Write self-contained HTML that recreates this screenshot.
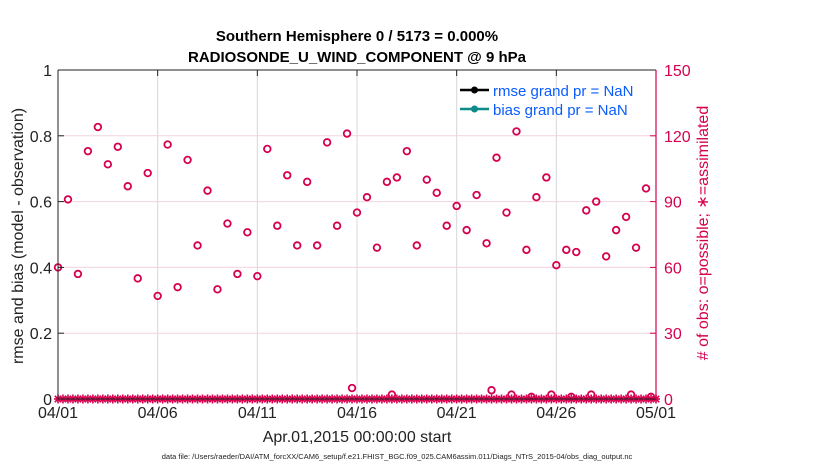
<!DOCTYPE html>
<html><head><meta charset="utf-8"><style>
body{margin:0;background:#fff;}
svg{display:block;font-family:"Liberation Sans",sans-serif;}
</style></head><body>
<svg id="chart" width="830" height="470" viewBox="0 0 830 470">
<g id="grid"></g>
<g id="marks"></g>
<g id="axes"></g>
<text x="357" y="41" text-anchor="middle" font-size="15" font-weight="bold">Southern Hemisphere 0 / 5173 = 0.000%</text>
<text x="357" y="62" text-anchor="middle" font-size="15" font-weight="bold">RADIOSONDE_U_WIND_COMPONENT @ 9 hPa</text>
<text x="357" y="442" text-anchor="middle" font-size="16" fill="#222">Apr.01,2015 00:00:00 start</text>
<text x="397" y="459" text-anchor="middle" font-size="7.5" fill="#222">data file: /Users/raeder/DAI/ATM_forcXX/CAM6_setup/f.e21.FHIST_BGC.f09_025.CAM6assim.011/Diags_NTrS_2015-04/obs_diag_output.nc</text>
<text transform="translate(23,236) rotate(-90)" text-anchor="middle" font-size="16" fill="#222">rmse and bias (model - observation)</text>
<text transform="translate(708,233) rotate(-90)" text-anchor="middle" font-size="16" fill="#d6004f"># of obs: o=possible; ∗=assimilated</text>
<g>
<g>
<line x1="460" y1="90" x2="489" y2="90" stroke="#000" stroke-width="2.5"/><circle cx="474.5" cy="90" r="3.5" fill="#000"/>
<text x="493" y="96" font-size="15" fill="#0a5cff">rmse grand pr = NaN</text></g>
<g>
<line x1="460" y1="109" x2="489" y2="109" stroke="#0e8a8a" stroke-width="2.5"/><circle cx="474.5" cy="109" r="3.5" fill="#0e8a8a"/>
<text x="493" y="115" font-size="15" fill="#0a5cff">bias grand pr = NaN</text></g>
</g>
</svg>
<script>
// possible obs at 00Z/12Z (every 0.5 day starting Apr 1)
const possibleMain = [60,91,57,113,124,107,115,97,55,103,47,116,51,109,70,95,50,80,57,76,56,114,79,102,70,99,70,117,79,121,85,92,69,99,101,113,70,100,94,79,88,77,93,71,110,85,122,68,92,101,61,68,67,86,90,65,77,83,69,96];
// small possible counts at off-times (day, count)
const offDays = [14.75,16.75,21.75,22.75,23.75,24.75,25.75,26.75,28.75,29.75];
const offCounts = [5,2,4,2,1,2,1,2,2,1];
const assimilatedCount = 0;
const xTickDays = [0,5,10,15,20,25,30];
const xTickLabels = ["04/01","04/06","04/11","04/16","04/21","04/26","05/01"];
const leftTicks = [0,0.2,0.4,0.6,0.8,1];
const leftTickLabels = ["0","0.2","0.4","0.6","0.8","1"];
const rightTicks = [0,30,60,90,120,150];

const X0=58,X1=656,Y0=399,Y1=70;
const C="#d6004f";
function xs(d){return X0+(X1-X0)*d/30;}
function yl(v){return Y0-(Y0-Y1)*v;}
function yr(v){return Y0-(Y0-Y1)*v/150;}
const NS="http://www.w3.org/2000/svg";
function mk(tag,attrs,parent){const e=document.createElementNS(NS,tag);for(const k in attrs)e.setAttribute(k,attrs[k]);parent.appendChild(e);return e;}
const grid=document.getElementById('grid'),marks=document.getElementById('marks'),axes=document.getElementById('axes');

xTickDays.forEach((d,i)=>{
  if(i>0&&i<xTickDays.length-1){const l=mk('line',{x1:xs(d),x2:xs(d),y1:Y1,y2:Y0,stroke:'#d8d8d8','stroke-width':1},grid);
  
  }
  const t=mk('line',{x1:xs(d),x2:xs(d),y1:Y1,y2:Y1+6,stroke:'#222','stroke-width':1},axes);
  
  
  const tx=mk('text',{x:xs(d),y:418,'text-anchor':'middle','font-size':16,fill:'#222'},axes);
  tx.textContent=xTickLabels[i];
  
  
});
rightTicks.forEach(v=>{
  if(v>0&&v<150){const l=mk('line',{x1:X0,x2:X1,y1:yr(v),y2:yr(v),stroke:'#f3d3de','stroke-width':1},grid);
  
  }
  const t=mk('line',{x1:X1-6,x2:X1,y1:yr(v),y2:yr(v),stroke:C,'stroke-width':1},axes);
  
  
  const tx=mk('text',{x:664,y:yr(v)+6,'font-size':16,fill:C},axes);
  tx.textContent=String(v);
  
  
});
leftTicks.forEach((v,i)=>{
  const t=mk('line',{x1:X0,x2:X0+6,y1:yl(v),y2:yl(v),stroke:'#222','stroke-width':1},axes);
  
  
  const tx=mk('text',{x:52,y:yl(v)+6,'text-anchor':'end','font-size':16,fill:'#222'},axes);
  tx.textContent=leftTickLabels[i];
  
  
});
const la=mk('line',{x1:X0,x2:X0,y1:Y1,y2:Y0,stroke:'#222','stroke-width':1},axes);


const ta=mk('line',{x1:X0,x2:X1,y1:Y1,y2:Y1,stroke:'#222','stroke-width':1},axes);


const ba=mk('line',{x1:X0,x2:X1,y1:Y0,y2:Y0,stroke:'#222','stroke-width':1},axes);


const ra=mk('line',{x1:X1,x2:X1,y1:Y1,y2:Y0,stroke:C,'stroke-width':1.2},axes);



// assimilated asterisks every 6 hours
for(let k=0;k<=120;k++){
  const x=xs(k*0.25),y=yr(assimilatedCount);
  const g=mk('g',{stroke:C,'stroke-width':1.6},marks);
  
  
  mk('line',{x1:x-4,x2:x+4,y1:y,y2:y},g);
  mk('line',{x1:x,x2:x,y1:y-4.5,y2:y+4.5},g);
  mk('line',{x1:x-3.2,x2:x+3.2,y1:y-3.2,y2:y+3.2},g);
  mk('line',{x1:x-3.2,x2:x+3.2,y1:y+3.2,y2:y-3.2},g);
}
possibleMain.forEach((v,i)=>{
  const c=mk('circle',{cx:xs(i*0.5),cy:yr(v),r:3.3,fill:'none',stroke:C,'stroke-width':1.8},marks);
  
  
});
offDays.forEach((d,i)=>{
  const c=mk('circle',{cx:xs(d),cy:yr(offCounts[i]),r:3.3,fill:'none',stroke:C,'stroke-width':1.8},marks);
  
  
});
</script>
</body></html>
